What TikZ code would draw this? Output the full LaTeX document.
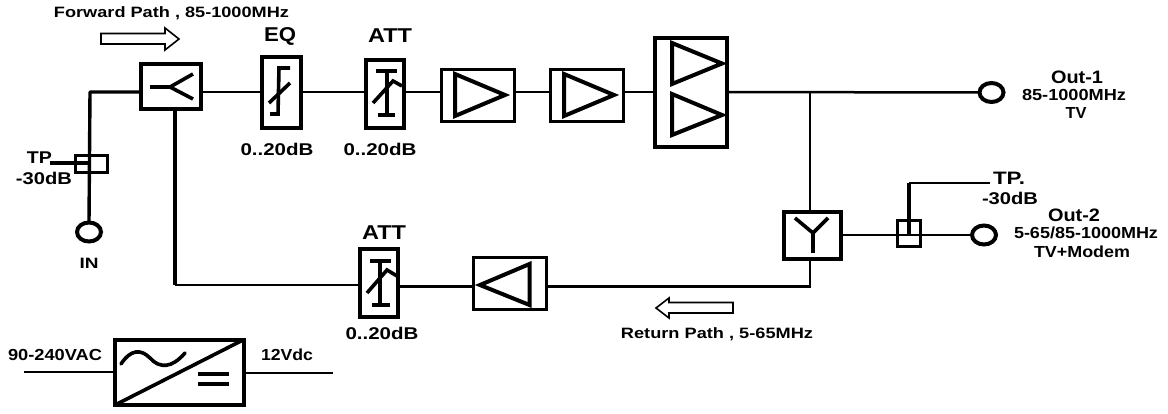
\documentclass[tikz,border=0pt]{standalone}
\usepackage{fontspec}
\usepackage{graphicx}
\setmainfont{Liberation Sans}[BoldFont={Liberation Sans Bold}]
\newcommand{\lb}[3]{\resizebox{#2pt}{\height}{\fontsize{#1pt}{#1pt}\selectfont\bfseries #3}}
\tikzset{
  blk/.style={draw=black,line width=4pt,fill=white,rectangle,inner sep=0pt,outer sep=0pt},
  thinblk/.style={blk,line width=3pt},
  wire/.style={draw=black,line width=2.5pt,line cap=butt},
  wireb/.style={draw=black,line width=3.4pt,line join=round},
  sym/.style={draw=black,line width=3.6pt,line join=miter},
  tri/.style={draw=black,line width=4pt,line join=miter},
  port/.style={draw=black,line width=4pt,fill=white,ellipse,inner sep=0pt,outer sep=0pt,minimum width=24pt,minimum height=19pt},
  hollow/.style={draw=black,line width=1.6pt,fill=white,line join=miter},
  txt/.style={inner sep=0pt,outer sep=0pt,text=black}
}
\usetikzlibrary{shapes.geometric}
\begin{document}
\begin{tikzpicture}[x=1pt,y=-1pt]
\path[use as bounding box,fill=white] (0,0) rectangle (1168,414);

% reference levels of the signal lines
\coordinate (fwd) at (0,92);
\coordinate (ret) at (0,286.5);
\coordinate (oy2) at (0,235);

% blocks
\node[blk,minimum width=60pt,minimum height=45pt] (split) at (171,86.5) {};
\node[blk,minimum width=39pt,minimum height=71pt] (eq) at (281.5,92.5) {};
\node[blk,minimum width=38pt,minimum height=68pt] (att1) at (385,94) {};
\node[thinblk,minimum width=73pt,minimum height=52pt] (amp1) at (478,95.5) {};
\node[thinblk,minimum width=73pt,minimum height=52pt] (amp2) at (587,95.5) {};
\node[blk,minimum width=72pt,minimum height=109pt] (amp3) at (691,92.5) {};
\node[blk,minimum width=57pt,minimum height=47pt] (ysplit) at (812.5,235.5) {};
\node[thinblk,minimum width=23pt,minimum height=26pt] (tp2) at (909,233.5) {};
\node[blk,minimum width=38pt,minimum height=68pt] (att2) at (379,283) {};
\node[thinblk,minimum width=73pt,minimum height=52pt] (amp4) at (510,283.5) {};
\node[thinblk,minimum width=32pt,minimum height=17pt] (tp1) at (91.5,164) {};
\node[blk,minimum width=129pt,minimum height=65pt] (psu) at (179.5,372.5) {};
\node[port] (out1) at (991.5,92.5) {};
\node[port] (out2) at (984,235) {};
\node[port] (in) at (89,232) {};

\coordinate (corner) at (90,92);
\coordinate (tee) at (810,92);
\coordinate (retcorner) at (810,286.5);
\coordinate (retleft) at (175,285);
\coordinate (tpstub) at (50,163);
\coordinate (tp2top) at (909,183);
\coordinate (tp2end) at (990,183);
\coordinate (acin) at (24,372);
\coordinate (dcout) at (333,373);

% connectors
\draw[wireb] (split.west |- fwd) -- (corner) -- (in.north);
\draw[wireb] (tpstub) -- (90,163);
\draw[wire] (split.east |- fwd) -- (eq.west |- fwd);
\draw[wire] (eq.east |- fwd) -- (att1.west |- fwd);
\draw[wire] (att1.east |- fwd) -- (amp1.west |- fwd);
\draw[wire] (amp1.east |- fwd) -- (amp2.west |- fwd);
\draw[wire] (amp2.east |- fwd) -- (amp3.west |- fwd);
\draw[wire] (amp3.east |- fwd) -- (out1.west);
\draw[wire] (tee) -- (ysplit.north -| tee);
\draw[wire] (ysplit.south -| tee) -- (retcorner) -- (amp4.east |- ret);
\draw[wire] (amp4.west |- ret) -- (att2.east |- ret);
\draw[wireb] (split.south -| retleft) -- (retleft);
\draw[wire] (retleft) -- (att2.west |- retleft);
\draw[wire] (ysplit.east |- oy2) -- (out2.west);
\draw[wireb] (tp2.center |- oy2) -- (tp2top);
\draw[wire] (tp2top) -- (tp2end);
\draw[wire] (acin) -- (psu.west |- acin);
\draw[wire] (psu.east |- dcout) -- (dcout);

% symbol: splitter
\draw[sym] (150,87) -- (170,87) -- (193,74);
\draw[sym] (170,87) -- (193,99);
% symbol: equaliser
\draw[sym] (269,103) -- (290,83);
\draw[sym] (290,68) -- (279,68) -- (278,114) -- (270,114);
% symbols: attenuators
\draw[sym] (376,71) -- (397,71);
\draw[sym] (387,71) -- (387,115);
\draw[sym] (378,115) -- (395,115);
\draw[sym] (373,103) -- (393,81) -- (402,86);
\draw[sym] (370,261) -- (391,261);
\draw[sym] (380,261) -- (380,305);
\draw[sym] (372,305) -- (390,305);
\draw[sym] (367,293) -- (387,270) -- (397,276);
% symbols: amplifiers
\draw[tri] (455,74) -- (505,95) -- (455,116) -- cycle;
\draw[tri] (564,74) -- (614,95) -- (564,116) -- cycle;
\draw[tri] (672,43) -- (722,63.5) -- (672,84) -- cycle;
\draw[tri] (672,94) -- (722,115) -- (672,135) -- cycle;
\draw[tri] (529.5,264) -- (480,285) -- (529.5,305) -- cycle;
% symbol: Y
\draw[sym] (813,253) -- (813,233) -- (795,218);
\draw[sym] (813,233) -- (828,218);
% power supply symbols
\draw[sym] (115,405) -- (243,340);
\draw[sym,line cap=round] (121,364) .. controls (131,349) and (141,349) .. (150,358) .. controls (160,369) and (172,368) .. (185,353);
\draw[sym] (198,374) -- (229,374);
\draw[sym] (198,384) -- (229,384);

% direction arrows
\draw[hollow] (101,33.5) -- (165,33.5) -- (165,28) -- (179,39) -- (165,50) -- (165,44) -- (101,44) -- cycle;
\draw[hollow] (733,302.5) -- (669,302.5) -- (669,298) -- (656,308) -- (669,318) -- (669,313) -- (733,313) -- cycle;

% labels
\node[txt] (tfwd) at (171.5,13) {\lb{15}{235}{Forward Path , 85-1000MHz}};
\node[txt] (teq) at (280,36) {\lb{20}{32}{EQ}};
\node[txt] (tatt1) at (390,36) {\lb{20}{44}{ATT}};
\node[txt] (tdb1) at (277,149) {\lb{17}{73}{0..20dB}};
\node[txt] (tdb2) at (380,149) {\lb{17}{73}{0..20dB}};
\node[txt] (tatt2) at (384,233) {\lb{20}{44}{ATT}};
\node[txt] (tdb3) at (382,333) {\lb{17}{73}{0..20dB}};
\node[txt] (ttp1) at (39.5,158) {\lb{17}{25}{TP}};
\node[txt] (tdb4) at (44,178) {\lb{17}{56}{-30dB}};
\node[txt] (tin) at (89,263) {\lb{15}{19}{IN}};
\node[txt] (to1) at (1077,77) {\lb{18}{52}{Out-1}};
\node[txt] (to1a) at (1074,95) {\lb{16}{104}{85-1000MHz}};
\node[txt] (to1b) at (1076,113) {\lb{16}{21}{TV}};
\node[txt] (ttp2) at (1009,178) {\lb{18}{32}{TP.}};
\node[txt] (tdb5) at (1010,198) {\lb{17}{56}{-30dB}};
\node[txt] (to2) at (1074,215) {\lb{18}{52}{Out-2}};
\node[txt] (to2a) at (1086,233) {\lb{16}{144}{5-65/85-1000MHz}};
\node[txt] (to2b) at (1082,252) {\lb{16}{96}{TV+Modem}};
\node[txt] (tac) at (55,355) {\lb{16}{94}{90-240VAC}};
\node[txt] (tdc) at (287,355) {\lb{16}{52}{12Vdc}};
\node[txt] (tret) at (717,334) {\lb{15}{192}{Return Path , 5-65MHz}};
\end{tikzpicture}
\end{document}
